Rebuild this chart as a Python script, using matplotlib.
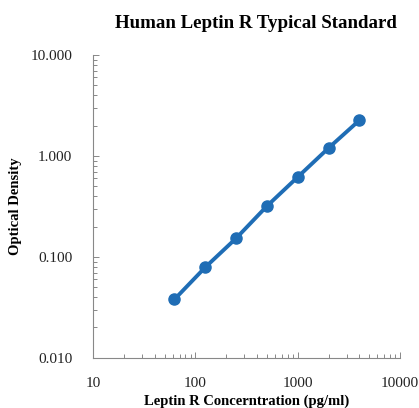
import matplotlib
matplotlib.use("Agg")
import matplotlib.pyplot as plt
from matplotlib.ticker import LogLocator, FixedLocator, FuncFormatter, NullFormatter

# standard curve data
conc = [62.5, 125, 250, 500, 1000, 2000, 4000]
od = [0.038, 0.079, 0.153, 0.319, 0.619, 1.20, 2.26]

x_ticks = [10, 100, 1000, 10000]
y_ticks = [0.01, 0.1, 1, 10]

plt.rcParams['font.family'] = ['Liberation Serif', 'DejaVu Serif']

fig = plt.figure(figsize=(4.19, 4.08), dpi=100)
ax = fig.add_axes([0.222, 0.123, 0.733, 0.742])

blue = '#1f6db5'
ax.plot(conc, od, color=blue, lw=2.8, marker='o', ms=8,
        markerfacecolor=blue, markeredgecolor=blue)

ax.set_xscale('log')
ax.set_yscale('log')
ax.set_xlim(10, 10000)
ax.set_ylim(0.01, 10)

ax.xaxis.set_major_locator(FixedLocator(x_ticks))
ax.yaxis.set_major_locator(FixedLocator(y_ticks))
ax.xaxis.set_minor_locator(LogLocator(base=10, subs=range(2, 10)))
ax.yaxis.set_minor_locator(LogLocator(base=10, subs=range(2, 10)))
ax.xaxis.set_major_formatter(FuncFormatter(lambda v, p: f"{v:.0f}"))
ax.yaxis.set_major_formatter(FuncFormatter(lambda v, p: f"{v:.3f}"))
ax.xaxis.set_minor_formatter(NullFormatter())
ax.yaxis.set_minor_formatter(NullFormatter())

for s in ['top', 'right']:
    ax.spines[s].set_visible(False)
for s in ['left', 'bottom']:
    ax.spines[s].set_color('#888888')
    ax.spines[s].set_linewidth(0.8)

ax.tick_params(which='both', direction='in', color='#888888', width=0.7)
ax.tick_params(which='major', length=4, labelsize=11, labelcolor='#222222')
ax.tick_params(axis='y', which='major', pad=15)
ax.tick_params(axis='x', which='major', pad=14)
ax.tick_params(which='minor', length=3)

ax.set_xlabel('Leptin R Concerntration (pg/ml)', fontsize=10.5, fontweight='bold', labelpad=3)
ax.set_ylabel('Optical Density', fontsize=10.5, fontweight='bold', labelpad=6)
fig.text(0.61, 0.942, 'Human Leptin R Typical Standard', ha='center', va='center',
         fontsize=13.6, fontweight='bold')

fig.savefig('out.png', dpi=100)
